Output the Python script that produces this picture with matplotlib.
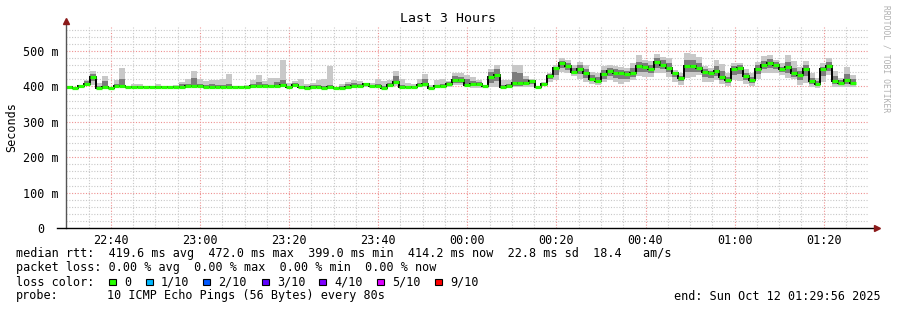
import numpy as np
import matplotlib
matplotlib.use('Agg')
import matplotlib.pyplot as plt
from datetime import datetime, timedelta

# smokeping style graph: 10 pings every 80s, last 3 hours
start = datetime(2025, 10, 11, 22, 29, 56)
step_min = 80 / 60.0

# median rtt per step (ms)
median = [398, 397, 400, 408, 427, 397, 399, 396, 400, 401,
          398, 398, 398, 398, 398, 398, 398, 398, 398, 399,
          400, 402, 401, 398, 398, 399, 399, 399, 398, 398,
          398, 400, 402, 401, 400, 402, 405, 399, 404, 398,
          397, 398, 398, 397, 398, 397, 397, 399, 401, 401,
          406, 401, 401, 396, 404, 413, 399, 398, 399, 403,
          408, 396, 401, 401, 406, 417, 417, 405, 406, 408,
          401, 427, 433, 399, 401, 411, 410, 410, 415, 399,
          408, 429, 451, 465, 458, 441, 449, 437, 422, 415,
          434, 443, 438, 438, 434, 439, 457, 455, 449, 469,
          462, 452, 437, 424, 458, 458, 451, 441, 437, 443,
          427, 419, 449, 452, 429, 419, 450, 462, 467, 462,
          448, 454, 437, 432, 449, 415, 406, 448, 458, 415,
          410, 417, 411]

# outer smoke (lightest) top / bottom
smoke_hi = [400, 399, 405, 418, 443, 410, 430, 398, 418, 452,
            400, 408, 408, 400, 400, 406, 400, 400, 404, 412,
            420, 443, 420, 416, 418, 418, 420, 436, 400, 400,
            404, 418, 431, 415, 425, 425, 474, 410, 416, 421,
            407, 411, 418, 421, 458, 399, 407, 413, 418, 414,
            408, 411, 421, 415, 418, 443, 420, 410, 408, 420,
            436, 404, 418, 421, 416, 437, 439, 432, 426, 418,
            405, 449, 460, 418, 418, 460, 460, 429, 420, 401,
            413, 437, 460, 479, 474, 460, 469, 460, 441, 437,
            458, 460, 458, 456, 451, 465, 489, 474, 472, 493,
            484, 479, 446, 437, 495, 493, 484, 458, 451, 474,
            463, 437, 465, 467, 448, 437, 470, 486, 489, 476,
            465, 489, 473, 456, 473, 437, 423, 465, 479, 444,
            425, 454, 432]
smoke_lo = [396, 396, 397, 400, 405, 395, 397, 395, 397, 398,
            396, 396, 396, 396, 396, 396, 396, 396, 396, 397,
            397, 398, 398, 396, 396, 397, 397, 397, 396, 396,
            396, 397, 398, 398, 397, 398, 398, 397, 398, 396,
            395, 396, 396, 395, 396, 395, 395, 397, 397, 398,
            399, 398, 398, 394, 398, 400, 397, 396, 397, 398,
            399, 394, 397, 397, 398, 404, 404, 398, 396, 397,
            398, 399, 399, 397, 398, 399, 399, 399, 399, 397,
            405, 413, 418, 441, 437, 429, 422, 413, 408, 404,
            413, 418, 413, 408, 413, 418, 429, 427, 427, 439,
            437, 427, 412, 404, 425, 427, 432, 413, 413, 418,
            408, 401, 418, 416, 408, 401, 420, 437, 437, 437,
            432, 423, 420, 404, 410, 399, 397, 413, 432, 399,
            399, 399, 399]

# inner smoke (darker) top / bottom
inner_hi = [399, 398, 402, 414, 436, 402, 415, 397, 406, 420,
            399, 400, 400, 399, 399, 400, 399, 399, 400, 406,
            406, 425, 408, 404, 408, 404, 405, 407, 399, 399,
            400, 408, 413, 406, 405, 412, 418, 402, 410, 402,
            400, 404, 403, 402, 404, 398, 400, 406, 411, 406,
            407, 405, 408, 402, 410, 430, 404, 402, 402, 410,
            420, 399, 405, 407, 412, 430, 428, 420, 415, 412,
            402, 440, 448, 405, 406, 441, 439, 420, 418, 400,
            410, 434, 456, 472, 467, 452, 460, 448, 432, 426,
            447, 452, 448, 447, 443, 452, 470, 465, 462, 480,
            474, 466, 441, 430, 475, 474, 466, 450, 444, 458,
            445, 428, 458, 460, 439, 428, 460, 473, 477, 469,
            456, 470, 452, 443, 460, 425, 414, 456, 468, 430,
            418, 435, 421]
inner_lo = [397, 396, 398, 404, 415, 396, 398, 395, 398, 399,
            397, 397, 397, 397, 397, 397, 397, 397, 397, 398,
            399, 401, 400, 397, 397, 398, 398, 398, 397, 397,
            397, 399, 400, 399, 398, 400, 402, 398, 400, 397,
            396, 397, 397, 396, 397, 396, 396, 398, 399, 399,
            402, 399, 399, 395, 400, 407, 398, 397, 398, 400,
            402, 395, 399, 399, 402, 410, 410, 400, 400, 402,
            399, 410, 415, 398, 399, 402, 402, 404, 408, 398,
            406, 420, 432, 452, 446, 434, 434, 424, 414, 409,
            422, 430, 424, 420, 422, 427, 441, 440, 437, 452,
            448, 440, 428, 414, 440, 442, 441, 427, 424, 430,
            417, 410, 432, 434, 418, 410, 434, 449, 452, 449,
            440, 437, 428, 418, 430, 406, 401, 430, 445, 406,
            403, 408, 405]

y_labels = ['0  ', '100 m', '200 m', '300 m', '400 m', '500 m']
loss_labels = ['0', '1/10', '2/10', '3/10', '4/10', '5/10', '9/10']
loss_colors = ['#26ff00', '#00b8ff', '#0059ff', '#5e00ff', '#7e00ff', '#dd00ff', '#ff0000']

mono = 'DejaVu Sans Mono'
plt.rcParams['font.family'] = mono

fig = plt.figure(figsize=(8.97, 3.10), dpi=100)
ax = fig.add_axes([66 / 897, 82 / 310, 802 / 897, 201 / 310])
ax.set_xlim(0, 180)
ax.set_ylim(0, 568)

# grid
off = 4 / 60.0  # first full 5 minutes after start
for m in np.arange(off, 180, 5):
    major = abs(((m - off) % 20) - 10) < 0.01
    ax.axvline(m, color='#ee9090' if major else '#c8c8c8', lw=0.8,
               ls=(0, (1, 1.5)), zorder=0)
for v in range(20, 568, 20):
    major = v % 100 == 0
    ax.axhline(v, color='#ee9090' if major else '#c8c8c8', lw=0.8,
               ls=(0, (1, 1.5)), zorder=0)

edges = np.arange(len(median) + 1) * step_min
ax.stairs(smoke_hi, edges, baseline=smoke_lo, fill=True, color='#c8c8c8', lw=0, zorder=2)
ax.stairs(inner_hi, edges, baseline=inner_lo, fill=True, color='#7c7c7c', lw=0, zorder=3)
ax.stairs(median, edges, baseline=None, color='black', lw=1.4, zorder=4)
ax.hlines(median, edges[:-1], edges[1:], color='#26ff00', lw=2.3, zorder=5)

for s in ax.spines.values():
    s.set_visible(False)

# axes with arrows
ax.plot([0, 0], [0, 580], color='#555555', lw=1, clip_on=False, zorder=6)
ax.plot([-2, 181.5], [0, 0], color='black', lw=1, clip_on=False, zorder=6)
ax.plot([0], [584], marker='^', ms=5, color='#8b1a1a', clip_on=False, zorder=7)
ax.plot([182], [0], marker='>', ms=5, color='#8b1a1a', clip_on=False, zorder=7)

# ticks
major_t = np.arange(off + 10, 180, 20)
ax.set_xticks(major_t)
ax.set_xticklabels([(start + timedelta(minutes=float(t))).strftime('%H:%M') for t in major_t])
ax.set_yticks(range(0, 600, 100))
ax.set_yticklabels(y_labels)
ax.tick_params(axis='both', length=0, labelsize=8.5, colors='black')
ax.tick_params(axis='x', pad=4)
ax.tick_params(axis='y', pad=5)

fig.text(448 / 897, 1 - 19 / 310, 'Last 3 Hours', ha='center', va='center', fontsize=9.5)
fig.text(12 / 897, 1 - 127 / 310, 'Seconds', rotation=90, ha='center', va='center', fontsize=8.5)
fig.text(886 / 897, 1 - 5 / 310, 'RRDTOOL / TOBI OETIKER', rotation=270, ha='center', va='top',
         fontsize=5.8, color='#b0b0b0')

# legend lines
fs = 8.5
fig.text(16 / 897, 1 - 254 / 310,
         'median rtt:  419.6 ms avg  472.0 ms max  399.0 ms min  414.2 ms now  22.8 ms sd  18.4   am/s',
         va='center', fontsize=fs)
fig.text(16 / 897, 1 - 268 / 310,
         'packet loss: 0.00 % avg  0.00 % max  0.00 % min  0.00 % now',
         va='center', fontsize=fs)
fig.text(16 / 897, 1 - 282 / 310, 'loss color:', va='center', fontsize=fs)
sq_x = [109, 146, 203, 262, 319, 377, 435]
for x, lab, c in zip(sq_x, loss_labels, loss_colors):
    fig.patches.append(plt.Rectangle((x / 897, (310 - 285) / 310), 6.5 / 897, 6.5 / 310,
                                     transform=fig.transFigure, facecolor=c,
                                     edgecolor='black', lw=0.8))
    fig.text((x + 15) / 897, 1 - 282 / 310, lab, va='center', fontsize=fs)
fig.text(16 / 897, 1 - 296 / 310, 'probe:', va='center', fontsize=fs)
fig.text(107 / 897, 1 - 296 / 310, '10 ICMP Echo Pings (56 Bytes) every 80s', va='center', fontsize=fs)
fig.text(881 / 897, 1 - 296 / 310, 'end: Sun Oct 12 01:29:56 2025', ha='right', va='center', fontsize=fs)

fig.savefig('out.png', dpi=100, facecolor='white')
